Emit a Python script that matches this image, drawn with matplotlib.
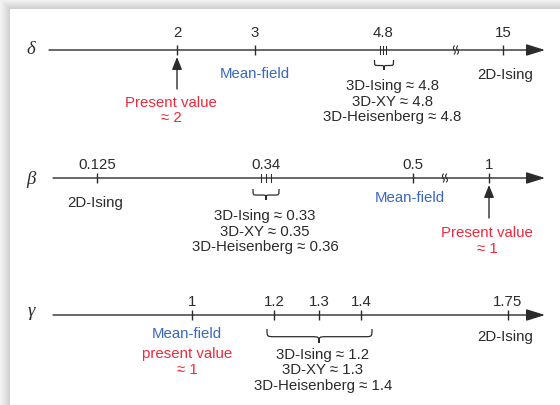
import matplotlib.pyplot as plt
import matplotlib.transforms as mtransforms
from matplotlib.path import Path
from matplotlib.patches import PathPatch, Rectangle
import numpy as np

plt.rcParams['font.family'] = ['Liberation Sans', 'DejaVu Sans']

# ---- data ----
models_3d = ['3D-Ising', '3D-XY', '3D-Heisenberg']

delta_ticks = [2, 3, 4.8, 15]
delta_tick_labels = ['2', '3', '4.8', '15']
delta_3d = [4.8, 4.8, 4.8]
delta_present = 2
delta_mean_field = 3
delta_2d_ising = 15
delta_break = 11

beta_ticks = [0.125, 0.34, 0.5, 1]
beta_tick_labels = ['0.125', '0.34', '0.5', '1']
beta_3d = [0.33, 0.35, 0.36]
beta_present = 1
beta_mean_field = 0.5
beta_2d_ising = 0.125
beta_break = 0.71

gamma_ticks = [1, 1.2, 1.3, 1.4, 1.75]
gamma_tick_labels = ['1', '1.2', '1.3', '1.4', '1.75']
gamma_3d = [1.2, 1.3, 1.4]
gamma_present = 1
gamma_mean_field = 1
gamma_2d_ising = 1.75

# ---- layout (pixels, schematic non-linear axes) ----
W, H = 560, 405
delta_px = [177, 255, 383, 503]
beta_px = [97, 266, 413, 489]
gamma_px = [192, 274, 319, 361, 508]

INK = '#2b2b2b'
RED = '#ec2a3d'
BLUE = '#3a67c0'
FS = 10.8

fig = plt.figure(figsize=(W / 100, H / 100), dpi=100)
fig.patch.set_facecolor('#f1f1f1')
# card with soft shadow
for k in range(8, 0, -1):
    fig.add_artist(Rectangle(((10 - k) / W, 0), 1, (H - 9 + k) / H, transform=fig.transFigure,
                             facecolor='black', alpha=0.014, edgecolor='none', zorder=0))
fig.add_artist(Rectangle((10 / W, 0), 1, (H - 9) / H, transform=fig.transFigure,
                         facecolor='white', edgecolor='none', zorder=0))

ov = fig.add_axes([0, 0, 1, 1])
ov.set_xlim(0, W)
ov.set_ylim(H, 0)
ov.set_axis_off()
ov.patch.set_visible(False)


def row_axes(ticks, px):
    ax = fig.add_axes([0, 0, 1, 1])
    ax.set_axis_off()
    ax.patch.set_visible(False)
    v = np.array(ticks, float)
    p = np.array(px, float)
    s0 = (p[1] - p[0]) / (v[1] - v[0])
    s1 = (p[-1] - p[-2]) / (v[-1] - v[-2])
    v = np.r_[v[0] - p[0] / s0, v, v[-1] + (W - p[-1]) / s1]
    p = np.r_[0, p, W]
    ax.set_xscale('function', functions=(lambda x: np.interp(x, v, p),
                                         lambda x: np.interp(x, p, v)))
    ax.set_xlim(v[0], v[-1])
    ax.set_ylim(H, 0)
    return ax


def xpix(ax, val):
    return ax.transData.transform((val, 0))[0]


def axis_line(ax, y, x0):
    blend = mtransforms.blended_transform_factory(ax.transAxes, ax.transData)
    ax.annotate('', xy=(545 / W, y), xycoords=blend, xytext=(x0 / W, y), textcoords=blend,
                arrowprops=dict(arrowstyle='-|>,head_length=1.15,head_width=0.36',
                                color=INK, lw=1.0, mutation_scale=10, shrinkA=0, shrinkB=0))


def ticks(ax, vals, labels, y, ly):
    ax.vlines(vals, y - 5.3, y + 5.3, color=INK, lw=1.0)
    for v, s in zip(vals, labels):
        ax.text(v, ly, s, ha='center', va='center', fontsize=FS, color=INK)


def cluster(ax, center, vals, y, step):
    for k, _ in enumerate(vals):
        off = (k - (len(vals) - 1) / 2) * step
        tr = ax.transData + mtransforms.ScaledTranslation(off / 100, 0, fig.dpi_scale_trans)
        ax.plot([center, center], [y - 4, y + 4], color=INK, lw=0.75, transform=tr)


def label(ax, val, y, s, color=INK, dx=0, ls=1.18):
    ax.annotate(s, xy=(val, y), xytext=(dx, 0), textcoords='offset pixels', ha='center',
                va='center', fontsize=FS, color=color, linespacing=ls, multialignment='center')


def up_arrow(ax, val, y0, y1):
    ax.annotate('', xy=(val, y1), xytext=(val, y0),
                arrowprops=dict(arrowstyle='-|>,head_length=0.75,head_width=0.3',
                                color=INK, lw=1.0, mutation_scale=10, shrinkA=0, shrinkB=0))


def brace(x1, x2, xc, yt, h, r):
    ym = yt + h * 0.55
    verts = [(x1, yt), (x1, ym), (x1, ym), (x1 + r, ym), (xc - r, ym),
             (xc, ym), (xc, ym), (xc, yt + h),
             (xc, ym), (xc, ym), (xc + r, ym), (x2 - r, ym),
             (x2, ym), (x2, ym), (x2, yt)]
    codes = [Path.MOVETO] + [Path.CURVE4] * 3 + [Path.LINETO] + [Path.CURVE4] * 6 + \
            [Path.LINETO] + [Path.CURVE4] * 3
    ov.add_patch(PathPatch(Path(verts, codes), fill=False, edgecolor=INK, lw=0.9))


def axis_break(x0, y0):
    ov.add_patch(Rectangle((x0 - 2.5, y0 - 1.5), 5, 3, facecolor='white', edgecolor='none', zorder=3))
    t = np.linspace(-1, 1, 30)
    for dx in (-1.6, 1.6):
        ov.plot(x0 + dx + 0.9 * np.sin(np.pi * t), y0 + 4 * t, color=INK, lw=0.8, zorder=4)


def block(vals):
    return '\n'.join(f'{m} \u2248 {v:g}' for m, v in zip(models_3d, vals))


# ---- delta ----
yd = 50
ad = row_axes(delta_ticks, delta_px)
axis_line(ad, yd, 49)
ticks(ad, [t for t in delta_ticks if t != delta_3d[0]], [l for t, l in zip(delta_ticks, delta_tick_labels) if t != delta_3d[0]], yd, 33)
ad.text(delta_3d[0], 33, '4.8', ha='center', va='center', fontsize=FS, color=INK)
cluster(ad, delta_3d[0], delta_3d, yd, 3)
xc = xpix(ad, delta_3d[0])
brace(xc - 8.5, xc + 10.5, xc + 1, 60, 10, 4)
axis_break(xpix(ad, delta_break), yd)
up_arrow(ad, delta_present, 89, 57)
label(ad, delta_present, 110.5, f'Present value\n\u2248 {delta_present:g}', RED, dx=-6)
label(ad, delta_mean_field, 73.5, 'Mean-field', BLUE)
label(ad, delta_3d[0], 101.5, block(delta_3d), dx=9)
label(ad, delta_2d_ising, 75.5, '2D-Ising', dx=2)

# ---- beta ----
yb = 178
ab = row_axes(beta_ticks, beta_px)
axis_line(ab, yb, 53)
ab.vlines([t for t in beta_ticks if t != 0.34], yb - 5.3, yb + 5.3, color=INK, lw=1.0)
for v, s in zip(beta_ticks, beta_tick_labels):
    ab.text(v, 165, s, ha='center', va='center', fontsize=FS, color=INK)
cluster(ab, 0.34, beta_3d, yb, 5)
xc = xpix(ab, 0.34)
brace(xc - 13, xc + 13, xc, 189, 11, 4)
axis_break(xpix(ab, beta_break), yb)
up_arrow(ab, beta_present, 218, 185)
label(ab, beta_present, 241, f'Present value\n\u2248 {beta_present:g}', RED, dx=-2)
label(ab, beta_mean_field, 198.5, 'Mean-field', BLUE, dx=-3)
label(ab, 0.34, 231.5, block(beta_3d), dx=-1)
label(ab, beta_2d_ising, 203.5, '2D-Ising', dx=-2)

# ---- gamma ----
yg = 315
ag = row_axes(gamma_ticks, gamma_px)
axis_line(ag, yg, 53)
ticks(ag, gamma_ticks, gamma_tick_labels, yg, 302)
brace(xpix(ag, gamma_3d[0]) - 7, xpix(ag, gamma_3d[-1]) + 11, xpix(ag, gamma_3d[1]), 329, 14, 8)
label(ag, gamma_mean_field, 334.5, 'Mean-field', BLUE, dx=-5)
label(ag, gamma_present, 362, f'present value\n\u2248 {gamma_present:g}', RED, dx=-5)
label(ag, gamma_3d[1], 370.5, block(gamma_3d), dx=4)
label(ag, gamma_2d_ising, 337.5, '2D-Ising', dx=-3)

# greek symbols
for s, y in (('\u03b4', 50), ('\u03b2', 180), ('\u03b3', 312)):
    ov.text(31, y, s, ha='center', va='center', fontsize=13.5, color=INK,
            family=['Liberation Serif', 'DejaVu Serif'], style='italic')

fig.savefig('out.png', dpi=100, facecolor=fig.get_facecolor())
